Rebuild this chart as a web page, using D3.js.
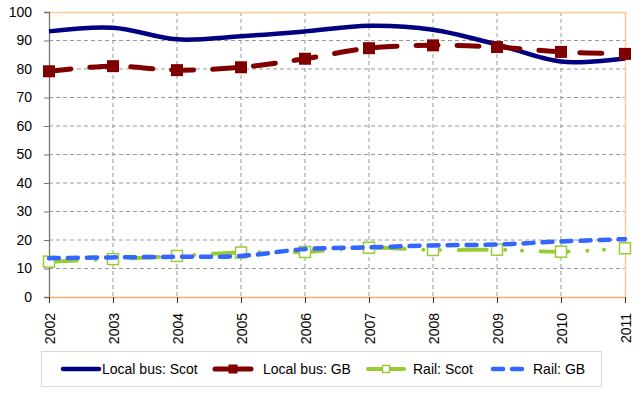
<!DOCTYPE html>
<html>
<head>
<meta charset="utf-8">
<script src="https://cdn.jsdelivr.net/npm/d3@7"></script>
<style>
  body { margin: 0; background: #fff; }
  svg { display: block; font-family: "Liberation Sans", Arial, sans-serif; }
</style>
</head>
<body>
<div id="chart"></div>
<script>
// data
const years = ["2002", "2003", "2004", "2005", "2006", "2007", "2008", "2009", "2010", "2011"];
const localBusScot = [93.2, 94.5, 90.4, 91.5, 93.2, 95.2, 93.8, 88.6, 82.6, 83.7];
const localBusGB = [79.2, 81.0, 79.6, 80.6, 83.6, 87.3, 88.3, 87.7, 86.0, 85.3];
const railScot = [12.4, 13.3, 14.4, 15.6, 15.8, 17.3, 16.5, 16.6, 15.9, 17.1];
const railGB = [13.6, 13.9, 14.1, 14.4, 16.8, 17.4, 18.1, 18.4, 19.5, 20.3];
const yTicks = [0, 10, 20, 30, 40, 50, 60, 70, 80, 90, 100];

const series = [
  { name: "Local bus: Scot", values: localBusScot, color: "#000080", width: 4.5, dash: null, marker: null },
  { name: "Local bus: GB", values: localBusGB, color: "#800000", width: 5, dash: "22,19", marker: "filled" },
  { name: "Rail: Scot", values: railScot, color: "#99CC33", width: 4, dash: "28,18.6,0.01,16.7,0.01,18.7", marker: "open" },
  { name: "Rail: GB", values: railGB, color: "#3366FF", width: 4.5, dash: "10,9", marker: null }
];

// legend layout: symbol start and text start for each item
const legendSym = [61, 213, 366, 491];
const legendText = [102, 263, 413, 533];

const width = 642, height = 397;
const margin = { top: 12, right: 17, bottom: 100, left: 49 };
const innerWidth = width - margin.left - margin.right;
const innerHeight = height - margin.top - margin.bottom;

const svg = d3.select("#chart").append("svg")
  .attr("width", width)
  .attr("height", height);

const g = svg.append("g")
  .attr("transform", `translate(${margin.left},${margin.top})`);

const x = d3.scalePoint().domain(years).range([0, innerWidth]);
const y = d3.scaleLinear().domain([0, 100]).range([innerHeight, 0]);

// grid lines
g.append("g").selectAll("line.hgrid")
  .data(yTicks.filter(d => d > 0 && d < 100))
  .join("line")
  .attr("x1", 0).attr("x2", innerWidth)
  .attr("y1", d => y(d)).attr("y2", d => y(d))
  .attr("stroke", "#999").attr("stroke-width", 1)
  .attr("stroke-dasharray", "4,3");

g.append("g").selectAll("line.vgrid")
  .data(years.slice(1, -1))
  .join("line")
  .attr("x1", d => x(d)).attr("x2", d => x(d))
  .attr("y1", 0).attr("y2", innerHeight)
  .attr("stroke", "#999").attr("stroke-width", 1)
  .attr("stroke-dasharray", "4,3");

// plot border top/right
g.append("path")
  .attr("d", `M0,0.5H${innerWidth + 0.5}V${innerHeight}`)
  .attr("fill", "none")
  .attr("stroke", "#FFCC99")
  .attr("stroke-width", 1.5);

// y axis
const yAxis = d3.axisLeft(y).tickValues(yTicks).tickSize(5).tickPadding(12);
const yG = g.append("g").call(yAxis);
yG.select(".domain").attr("stroke", "#7a7370").attr("stroke-width", 1.3);
yG.selectAll(".tick line").attr("stroke", "#7a7370");
yG.selectAll("text").attr("font-size", 14).attr("fill", "#000")
  .attr("font-family", "'Liberation Sans', Arial, sans-serif");

// x axis
const xAxis = d3.axisBottom(x).tickSize(6).tickSizeOuter(0);
const xG = g.append("g").attr("transform", `translate(0,${innerHeight})`).call(xAxis);
xG.select(".domain").attr("stroke", "#F5AE74").attr("stroke-width", 1.5);
xG.selectAll(".tick line").attr("stroke", "#333");
xG.selectAll("text")
  .attr("font-size", 14).attr("fill", "#000")
  .attr("font-family", "'Liberation Sans', Arial, sans-serif")
  .attr("text-anchor", "end")
  .attr("transform", "translate(0,16) rotate(-90)")
  .attr("x", 0).attr("y", 0).attr("dy", "0.36em");

// lines
const line = d3.line()
  .x((d, i) => x(years[i]))
  .y(d => y(d))
  .curve(d3.curveCardinal.tension(0));

series.forEach(s => {
  g.append("path")
    .datum(s.values)
    .attr("d", line)
    .attr("fill", "none")
    .attr("stroke", s.color)
    .attr("stroke-width", s.width)
    .attr("stroke-linecap", s.dash ? "round" : "butt")
    .attr("stroke-linejoin", "round")
    .attr("stroke-dasharray", s.dash);

  if (s.marker) {
    const size = s.marker === "filled" ? 12 : 11;
    g.append("g").selectAll("rect")
      .data(s.values)
      .join("rect")
      .attr("x", (d, i) => x(years[i]) - size / 2)
      .attr("y", d => y(d) - size / 2)
      .attr("width", size).attr("height", size)
      .attr("fill", s.marker === "filled" ? s.color : "#fff")
      .attr("stroke", s.color)
      .attr("stroke-width", s.marker === "filled" ? 0 : 1.5);
  }
});

// legend
const legend = svg.append("g");
legend.append("rect")
  .attr("x", 41.5).attr("y", 351.5)
  .attr("width", 560).attr("height", 35)
  .attr("fill", "#fff")
  .attr("stroke", "#D9D9D9");

const ly = 369;
series.forEach((s, i) => {
  const x0 = legendSym[i];
  const x1 = x0 + 40;
  legend.append("line")
    .attr("x1", x0 + 2).attr("x2", x1 - 2)
    .attr("y1", ly).attr("y2", ly)
    .attr("stroke", s.color)
    .attr("stroke-width", s.width)
    .attr("stroke-linecap", "round")
    .attr("stroke-dasharray", s.name === "Rail: GB" ? "10,9" : null);
  if (s.marker) {
    const size = s.marker === "filled" ? 9 : 7;
    legend.append("rect")
      .attr("x", (x0 + x1) / 2 - size / 2).attr("y", ly - size / 2)
      .attr("width", size).attr("height", size)
      .attr("fill", s.marker === "filled" ? s.color : "#fff")
      .attr("stroke", s.color)
      .attr("stroke-width", s.marker === "filled" ? 0 : 1.5);
  }
  legend.append("text")
    .attr("x", legendText[i]).attr("y", ly)
    .attr("dy", "0.36em")
    .attr("font-size", 14)
    .attr("fill", "#000")
    .text(s.name);
});
</script>
</body>
</html>
